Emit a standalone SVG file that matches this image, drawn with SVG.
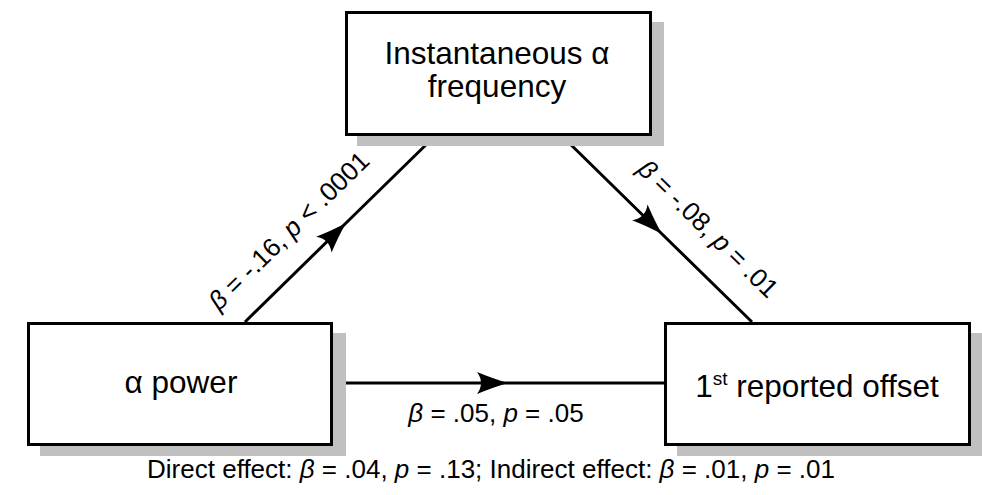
<svg xmlns="http://www.w3.org/2000/svg" width="982" height="495" viewBox="0 0 982 495">
  <style>
    .box { fill: #ffffff; stroke: #000000; stroke-width: 3; }
    .shadow { fill: #c0c0c0; stroke: none; }
    .conn { fill: none; stroke: #000000; stroke-width: 3; marker-mid: url(#arrow); }
    .node { font-family: "Liberation Sans", Arial, sans-serif; font-size: 31.5px; fill: #000000; text-anchor: middle; }
    .lbl { font-family: "Liberation Sans", Arial, sans-serif; font-size: 26px; fill: #000000; text-anchor: middle; }
    .it { font-style: italic; }
  </style>
  <defs>
    <marker id="arrow" markerUnits="userSpaceOnUse" viewBox="-34 -13 36 26" markerWidth="36" markerHeight="26" refX="0" refY="0" orient="auto" overflow="visible">
      <path d="M0,0 Q-14,-4 -31,-11 Q-23,0 -31,11 Q-14,4 0,0 Z" fill="#000000"/>
    </marker>
  </defs>
  <rect width="982" height="495" fill="#ffffff"/>
  <g id="connectors">
    <polyline class="conn" points="245,322 346,223 435,136"/>
    <polyline class="conn" points="562,136 662,234 752,322"/>
    <polyline class="conn" points="333,383 508,383 664,383"/>
  </g>
  <g id="node-frequency">
    <rect class="shadow" x="357" y="22" width="307" height="124"/>
    <rect class="box" x="346.5" y="12.5" width="304" height="122"/>
    <text class="node" x="497" y="64">Instantaneous α</text>
    <text class="node" x="497" y="97">frequency</text>
  </g>
  <g id="node-power">
    <rect class="shadow" x="40" y="333" width="306" height="123"/>
    <rect class="box" x="28.5" y="323.5" width="303" height="121"/>
    <text class="node" x="181" y="393">α power</text>
  </g>
  <g id="node-offset">
    <rect class="shadow" x="677" y="333" width="306" height="123"/>
    <rect class="box" x="665.5" y="323.5" width="304" height="121"/>
    <text class="node" x="817" y="397">1<tspan font-size="19" dy="-12">st</tspan><tspan dy="12"> reported offset</tspan></text>
  </g>
  <g id="labels">
    <text class="lbl" transform="translate(295,237) rotate(-44.4)"><tspan class="it">β</tspan> = -.16, <tspan class="it">p</tspan> &lt; .0001</text>
    <text class="lbl" transform="translate(702,235) rotate(44.4)"><tspan class="it">β</tspan> = -.08, <tspan class="it">p</tspan> = .01</text>
    <text class="lbl" x="496" y="422"><tspan class="it">β</tspan> = .05, <tspan class="it">p</tspan> = .05</text>
    <text class="lbl" x="491" y="478">Direct effect: <tspan class="it">β</tspan> = .04, <tspan class="it">p</tspan> = .13; Indirect effect: <tspan class="it">β</tspan> = .01, <tspan class="it">p</tspan> = .01</text>
  </g>
</svg>
